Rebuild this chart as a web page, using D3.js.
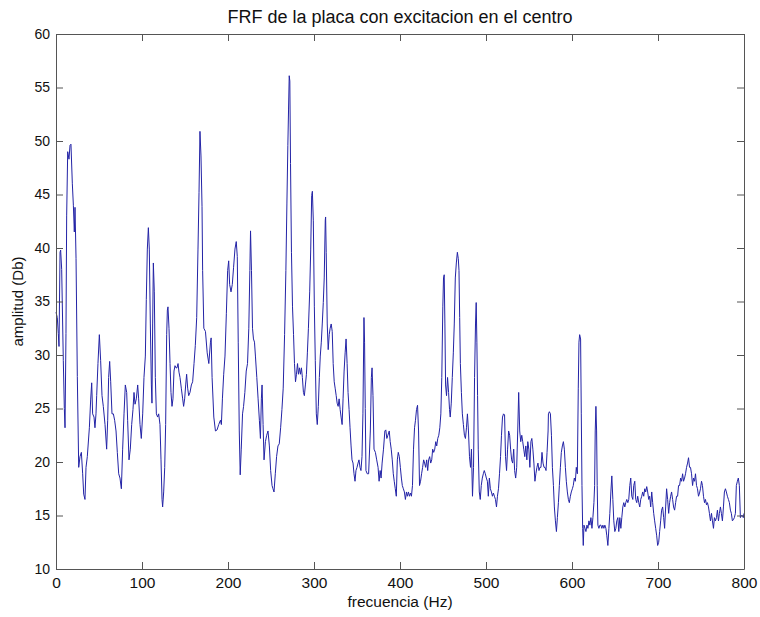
<!DOCTYPE html>
<html>
<head>
<meta charset="utf-8">
<script src="https://cdn.jsdelivr.net/npm/d3@7"></script>
<style>
  body { margin: 0; background: #fff; }
  text { font-family: "Liberation Sans", Arial, sans-serif; fill: #111; }
</style>
</head>
<body>
<script>
// FRF readings, [frequency Hz, amplitude dB], one list per band
var band0 = [[0,34],[1.5,33.5],[2.7,32],[3.5,30.8],[4.7,39.6],[5.4,39.8],[6.6,38],[8.5,29.5],[9.7,25],[10.5,23.2],
  [11.6,32],[12.4,43],[13.6,49],[15.1,48.3],[16.3,49.6],[17.4,49.7],[19,46],[20.2,44],[21.3,41.5],[22.1,43.8],
  [23.3,39],[24.8,28],[26.4,19.5],[27.9,20.5],[29.5,20.9],[31,18.9],[32.2,17],[33.7,16.5],[34.9,19.5],[36.4,20.5],
  [38.8,23.2],[40.3,25.8],[41.5,27.4],[42.6,24.5],[44.2,24.2],[45.3,23.2],[46.5,24.5],[47.3,26.2],[48.8,29.2],[50.4,31.9],
  [51.9,29.5],[53.5,26.2],[55,25.2],[57,23.5],[58.9,21.2],[60.1,23.9],[61.2,27.9],[62.4,29.4],[63.6,27.5],[65.1,24.5],
  [66.7,24.5],[68.2,23.9],[69.8,22.9],[71.3,20.9],[72.9,18.9],[74.4,18.5],[76,17.5],[77.5,21.2],[79.1,24.5],[80.6,27.2],
  [82.2,26.5],[83.3,23.9],[84.9,20.2],[86.4,21.2],[88,23.5],[89.5,24.9],[90.7,26.5],[91.9,25.4],[93.4,25.9],[95,27.2],
  [96.1,25.9],[97.7,23.5],[99.2,22.2],[100.8,24.5],[102.3,27.9],[103.9,29.9],[105,35.2],[106.2,39.9],[107.4,41.9],[108.5,39.9],
  [109.7,32.9],[110.9,27.2],[111.6,25.5],[112.4,32.9],[113.2,38.6],[114.3,35.9],[115.5,27.9],[116.7,24.5],[118.2,24.2],[119.4,24.5],
  [120.9,23.5],[122.1,20.2],[123.3,16.5],[124,15.8],[125.2,17.2],[126.4,19.5],[127.5,23.5],[128.7,31.9],[129.5,34.2],[130.2,34.5],
  [131.4,32.5],[132.6,29.2],[133.7,26.5],[134.9,25.2],[136,25.9],[137.2,28.5],[138.4,29],[139.5,28.8],[140.7,28.8],[141.9,29.2],
  [143,28.4],[144.2,27.9],[145.7,26.9],[147.3,25.9],[148.4,25.2],[149.6,25.9],[150.8,27.2],[151.9,28.2],[153.1,26.9],[154.3,26.2],
  [155.8,26.5],[157.4,27.2],[158.9,27.5],[160.5,29.2],[162,30.9],[163.6,33.5],[165.1,39.9],[166.3,45.2],[167.4,50.9],[168.6,48.6],
  [169.8,43.9],[170.5,37.9],[171.9,32.5],[173.8,32.2],[175.8,30.2],[177.7,29.2],[179.6,31.2],[180.4,31.6],[181.5,27.9],[183.5,24.2],
  [185.4,22.9],[187.3,23],[189.2,23.5],[191.2,23.9],[192.3,23.5],[193.5,25.9],[195,28.2],[196.5,29.9],[198.1,33.9],[199.6,37.9]];

var band1 = [[200.8,38.8],[201.9,36.6],[203.5,35.9],[205,36.6],[206.5,38.2],[208.1,39.9],[209.6,40.6],[210.8,39.2],[211.9,31.2],[213.1,22.9],
  [214.2,18.8],[215.4,21.2],[216.9,24.5],[218.1,25.2],[219.6,26.5],[221.2,28.5],[222.7,29.2],[224.2,32.5],[225.4,37.9],[226.2,41.6],
  [227.3,37.9],[228.5,32.5],[229.6,31.5],[230.8,31.2],[231.9,29.9],[233.5,27.9],[235,25.9],[236.5,23.9],[237.7,22.2],[238.8,25.9],
  [239.6,27.2],[240.8,23.5],[241.9,20.2],[243.5,21.9],[245,22.5],[246.5,22.9],[248.1,21.5],[249.6,19.2],[251.2,17.8],[252.3,17.5],
  [253.5,17.2],[255,18.9],[256.5,20.5],[258.1,21.5],[259.6,21.7],[261.2,23.2],[262.7,24.9],[264.2,26.9],[265.8,31.9],[267.3,37.9],
  [268.5,44.2],[269.6,49.6],[270.4,52.9],[271.2,56.1],[271.9,55.6],[272.7,47.9],[273.8,39.6],[275,34.5],[276.2,31.9],[277.3,29.2],
  [278.5,27.5],[279.6,28.2],[280.8,29.2],[281.9,28.2],[283.1,28.8],[284.2,28.2],[285.4,28.8],[286.5,27.9],[287.7,26.5],[288.8,26.2],
  [290,27.2],[291.2,28.2],[292.3,30.2],[293.5,32.5],[295,35.9],[296.2,39.9],[297.3,44.9],[298.1,45.3],[299.2,42.6],[300.4,34.5],
  [301.5,29.5],[302.7,24.5],[303.8,23.5],[305,25.2],[306.2,27.9],[307.3,29.9],[308.5,31.2],[309.6,32.9],[310.8,34.9],[311.9,37.2],
  [313.1,42.6],[313.5,42.9],[314.2,39.6],[315.4,32.9],[316.5,30.5],[317.7,31.9],[318.8,32.5],[320,32.9],[321.2,32.2],[322.3,29.2],
  [323.5,27.5],[324.6,26.9],[325.8,26.2],[326.9,25.5],[328.1,25.2],[329.2,25.9],[330.4,24.9],[331.5,24.2],[332.7,23.5],[333.8,25.9],
  [335,28.5],[336.2,30.2],[337.3,31.5],[338.5,29.2],[339.6,26.5],[340.8,24.9],[341.9,23.2],[343.1,21.5],[344.2,20.2],[345.4,19.9],
  [346.5,18.9],[347.7,18.2],[348.8,19.2],[350,19.5],[351.2,19.9],[352.3,20.2],[353.5,19.5],[354.6,19.2],[355.8,20.5],[356.9,24.5],
  [358.1,33.5],[358.8,31.2],[359.6,25],[360.4,19.2],[361.9,18.9],[363.5,18.9],[365.5,22.9],[366.7,27.9],[367.5,28.8],[368.6,26.2],
  [369.8,21.2],[371.4,20.9],[372.9,20.2],[374.5,19.5],[375.7,18.2],[376.9,19.2],[378,18.5],[379.2,19.9],[380.8,21.2],[382.4,22.9],
  [383.5,23],[384.7,22.2],[385.9,22.5],[387.5,22.9],[388.6,21.9],[389.8,21.2],[391,20.2],[392.2,18.9],[393.3,18.2],[394.5,17.5],
  [395.7,16.8],[396.9,20.2],[398,20.9],[399.2,20.5]];

var band2 = [[400.4,19.5],[401.6,18.5],[402.7,17.8],[403.9,17.5],[405.1,17.2],[406.3,16.5],[407.5,17.2],[408.6,16.8],[409.8,17.2],[411,16.8],
  [412.2,17.1],[413.3,16.8],[414.5,17.8],[415.7,21.2],[416.9,23.2],[418,23.9],[419.2,24.9],[420.4,25.3],[421.6,22.9],[422.7,17.8],
  [423.9,18.2],[425.1,18.9],[426.3,19.5],[427.5,20.2],[428.6,19.9],[429.8,19.5],[431,20.2],[432.2,19.2],[433.3,20.2],[434.5,20.5],
  [435.7,19.9],[436.9,20.2],[438,21.2],[439.2,20.9],[440.4,21.2],[441.6,21.9],[442.7,21.5],[443.9,22.2],[445.1,22.5],[446.3,23.2],
  [447.5,24.5],[448.6,27.9],[449.8,34.5],[450.6,37.2],[451.4,37.5],[452.2,32.9],[453,27.2],[454.1,26.2],[455.3,27.9],[456.5,26.5],
  [457.6,24.9],[458.4,24.2],[459.6,25.5],[460.8,27.9],[462,30.2],[463.1,32.9],[464.3,37.2],[465.5,38.6],[466.7,39.6],[467.8,39],
  [468.6,37.9],[469.4,33.5],[470.2,29.2],[471.4,26.5],[472.5,24.5],[473.7,23.5],[474.9,22.5],[476.1,22.2],[477.3,23.2],[478.4,24.5],
  [479.6,22.9],[480.8,20.5],[482,19.5],[483.1,21.2],[484.3,16.8],[485.5,19.5],[486.7,27.9],[487.8,32.9],[488.6,34.9],[489.4,31.2],
  [490.2,26.2],[491,21.2],[492.2,17.2],[493.3,16.5],[494.5,17.8],[495.7,18.5],[496.9,18.9],[498,19.2],[499.2,18.9],[500.4,18.5],
  [501.6,18.2],[502.7,16.8],[503.9,18.5],[505.1,17.5],[506.3,17.2],[507.5,16.8],[508.6,17.1],[509.8,16.8],[511,16.5],[512.2,15.8],
  [513.3,16.8],[514.5,17.5],[515.7,18.9],[516.9,20.5],[518,22.5],[519.2,24.2],[520.4,24.5],[521.6,24.4],[522.7,20.5],[523.9,19.2],
  [525.1,21.2],[526.3,22.9],[527.5,22.5],[528.6,21.2],[529.8,20.2],[531,19.9],[532.2,21.2],[533.3,19.2],[534.5,18.5],[535.7,19.5],
  [536.9,22.9],[538,26.5],[539.2,22.9],[540.4,21.9],[541.6,22.5],[542.7,21.9],[543.9,21.2],[545.1,20.5],[546.3,21.5],[547.5,20.2],
  [548.6,21.9],[549.8,21.2],[551,19.5],[552.2,21.9],[553.3,22.2],[554.5,21.2],[555.7,19.9],[556.9,18.2],[558,18.9],[559.2,19.5],
  [560.4,19.9],[561.6,19.2],[562.7,19.5],[563.9,19.5],[565.1,20.9],[566.3,19.9],[567.5,19.5],[568.6,19.5],[569.8,19.2],[571,20.9],
  [572.2,22.9],[572.6,24.5],[573.7,24.7],[574.9,24.5],[576.1,22.5],[577.2,19.5],[578.4,17.8],[579.5,15.8],[580.7,14.5],[581.9,13.5],
  [583,14.8],[584.2,16.2],[585.3,17.8],[586.5,19.5],[587.6,20.9],[588.8,21.5],[590,21.9],[591.1,21.2],[592.3,19.5],[593.4,18.2],
  [594.6,17.2],[595.8,16.5],[596.9,16.2],[598.1,16.8],[599.2,17.2]];

var band3 = [[600.4,17.5],[601.5,17.8],[602.7,18.5],[603.9,18.2],[605,19.5],[606.2,18.9],[607.3,26.9],[608.1,31.2],[608.9,31.9],[610,31.5],
  [610.8,24.5],[611.6,17.8],[612.4,13.8],[613.1,12.2],[613.9,14.1],[615.1,13.8],[616.2,13.5],[617.4,14.1],[618.5,13.8],[619.7,14.5],
  [620.8,14.1],[622,14.8],[623.2,13.8],[624.3,14.8],[625.5,16.2],[626.3,17.8],[627,22.9],[627.8,25.2],[628.6,22.9],[629.3,17.8],
  [630.1,14.1],[631.3,13.8],[632.4,14.1],[633.6,14.1],[634.7,13.8],[635.9,14.1],[637.1,13.8],[638.2,14.1],[639.4,13.8],[640.5,13.1],
  [641.7,12.2],[642.9,13.8],[644,15.2],[645.2,17.2],[646.3,18.7],[647.5,16.5],[648.6,14.5],[649.8,13.5],[651,13.8],[652.1,14.5],
  [653.3,14.8],[654.4,13.5],[655.6,14.8],[656.8,13.8],[657.9,14.8],[659.1,15.8],[660.2,16.2],[661.4,15.8],[662.5,16.2],[663.7,16.5],
  [664.9,16.2],[666,16.5],[667.2,17.8],[668.3,18.5],[669.5,16.8],[670.7,16.5],[671.8,17.8],[673,18.2],[674.1,16.5],[675.3,16.2],
  [676.4,16.8],[677.6,16.2],[678.8,15.8],[679.9,16.5],[681.1,16.8],[682.2,17.2],[683.4,16.8],[684.6,17.5],[685.7,17.2],[686.9,17.7],
  [688,17.2],[689.2,16.5],[690.3,16.8],[691.5,15.8],[692.7,17.2],[693.8,16.2],[695,15.2],[696.1,14.5],[697.3,13.8],[698.5,13.1],
  [699.6,12.2],[700.8,12.5],[701.9,13.5],[703.1,14.5],[704.2,15.5],[705.4,15.8],[706.6,14.8],[707.7,13.8],[708.9,15.8],[710,17.5],
  [711.2,16.5],[712.4,15.2],[713.5,16.2],[714.7,16.8],[715.8,17.2],[717,16.5],[718.1,15.8],[719.3,15.5],[720.5,16.2],[721.6,16.8],
  [722.8,16.8],[723.9,17.8],[725.1,17.8],[726.3,18.5],[727.4,18.2],[728.6,18.9],[729.7,18.2],[730.9,18.5],[732,18.9],[733.2,19.5],
  [734.4,19.9],[735.5,20.4],[736.7,19.5],[737.8,19.5],[739,18.9],[740.2,17.8],[741.3,18.5],[742.5,18.2],[743.6,18.9],[744.8,17.8],
  [745.9,17.5],[747.1,16.8],[748.3,17.1],[749.4,17.5],[750.6,18.2],[751.7,17.8],[752.9,16.8],[754.1,16.2],[755.2,16.5],[756.4,16],
  [757.5,16.2],[758.7,15.8],[759.8,15.2],[761,14.5],[762.2,15.2],[763.3,14.5],[764.5,13.8],[765.6,14.8],[766.8,14.5],[768,14.8],
  [769.1,15.5],[770.3,14.5],[771.4,15.2],[772.6,15.8],[773.7,15.2],[774.9,14.5],[776.1,15.8],[777.2,17.2],[778.4,17.5],[779.5,17.2],
  [780.7,16.8],[781.9,16.5],[783,16.2],[784.2,15.5],[785.3,15.2],[786.5,14.5],[787.6,14.6],[788.8,14.8],[790,15.2],[791.1,17.8],
  [792.3,18.2],[793.4,18.5],[794.6,17.8],[795.8,14.8],[796.9,15],[798.1,15],[799.2,14.8],[800,15.2]];

var xTicks = [0, 100, 200, 300, 400, 500, 600, 700, 800];
var yTicks = [10, 15, 20, 25, 30, 35, 40, 45, 50, 55, 60];

var titleText = 'FRF de la placa con excitacion en el centro';
var xLabel = 'frecuencia (Hz)';
var yLabel = 'amplitud (Db)';

var frf = band0.concat(band1, band2, band3);

var svgWidth = 760;
var svgHeight = 617;
var margin = {top: 34, right: 16, bottom: 48, left: 56};
var plotW = svgWidth - margin.left - margin.right;
var plotH = svgHeight - margin.top - margin.bottom;
var tickLen = 7;
var boxColor = '#555';

var svg = d3.select('body')
    .append('svg')
    .attr('width', svgWidth)
    .attr('height', svgHeight);

var x = d3.scaleLinear()
    .domain([0, 800])
    .range([0, plotW]);

var y = d3.scaleLinear()
    .domain([10, 60])
    .range([plotH, 0]);

var g = svg.append('g')
    .attr('transform', 'translate(' + margin.left + ',' + margin.top + ')');

// the data line
var line = d3.line()
    .x(function (d) { return x(d[0]); })
    .y(function (d) { return y(d[1]); });

g.append('path')
    .datum(frf)
    .attr('fill', 'none')
    .attr('stroke', '#2323a6')
    .attr('stroke-width', 1)
    .attr('stroke-linejoin', 'round')
    .attr('d', line);

// matlab style box, ticks point inwards on all four sides
function styleAxis(size) {
    return function (sel) {
        sel.select('.domain').attr('stroke', boxColor);
        sel.selectAll('.tick line').attr('stroke', boxColor);
        sel.selectAll('.tick text')
            .attr('font-size', size)
            .attr('font-family', '"Liberation Sans", Arial, sans-serif')
            .attr('fill', '#111');
    };
}

g.append('g')
    .attr('transform', 'translate(0,' + plotH + ')')
    .call(d3.axisBottom(x).tickValues(xTicks).tickSizeInner(-tickLen).tickSizeOuter(0).tickPadding(8))
    .call(styleAxis(15.5));

g.append('g')
    .call(d3.axisTop(x).tickValues(xTicks).tickSizeInner(-tickLen).tickSizeOuter(0).tickFormat(''))
    .call(styleAxis(15.5));

g.append('g')
    .call(d3.axisLeft(y).tickValues(yTicks).tickSizeInner(-tickLen).tickSizeOuter(0).tickPadding(6))
    .call(styleAxis(14));

g.append('g')
    .attr('transform', 'translate(' + plotW + ',0)')
    .call(d3.axisRight(y).tickValues(yTicks).tickSizeInner(-tickLen).tickSizeOuter(0).tickFormat(''))
    .call(styleAxis(14));

// labels
svg.append('text')
    .attr('x', margin.left + plotW / 2)
    .attr('y', 23)
    .attr('text-anchor', 'middle')
    .attr('font-size', 18)
    .text(titleText);

svg.append('text')
    .attr('x', margin.left + plotW / 2)
    .attr('y', 607)
    .attr('text-anchor', 'middle')
    .attr('font-size', 15.5)
    .text(xLabel);

svg.append('text')
    .attr('transform', 'translate(23,' + (margin.top + plotH / 2) + ') rotate(-90)')
    .attr('text-anchor', 'middle')
    .attr('font-size', 15)
    .text(yLabel);
</script>
</body>
</html>
